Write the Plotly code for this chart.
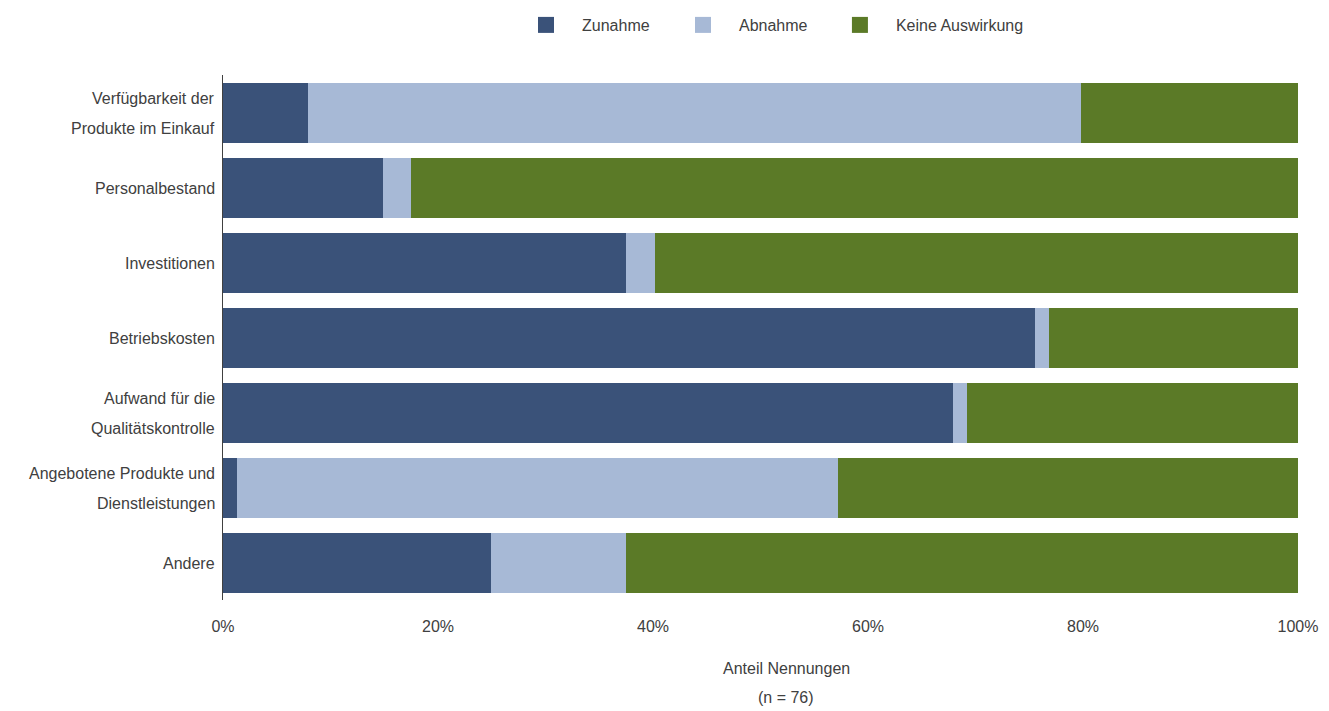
import plotly.graph_objects as go

categories = [
    "Verfügbarkeit der<br>Produkte im Einkauf",
    "Personalbestand",
    "Investitionen",
    "Betriebskosten",
    "Aufwand für die<br>Qualitätskontrolle",
    "Angebotene Produkte und<br>Dienstleistungen",
    "Andere",
]
zunahme = [7.9, 14.9, 37.5, 75.5, 67.9, 1.3, 24.9]
abnahme = [71.9, 2.6, 2.7, 1.3, 1.3, 55.9, 12.6]
keine = [20.2, 82.5, 59.8, 23.2, 30.8, 42.8, 62.5]

tick_vals = [0, 20, 40, 60, 80, 100]
tick_text = ["0%", "20%", "40%", "60%", "80%", "100%"]
axis_title_lines = ["Anteil Nennungen", "(n = 76)"]

series = [
    ("Zunahme", zunahme, "#3A5279"),
    ("Abnahme", abnahme, "#A7B9D6"),
    ("Keine Auswirkung", keine, "#5B7A27"),
]
legend_x = [0.267, 0.413, 0.559]
legend_ids = ["legend", "legend2", "legend3"]

font_family = "Liberation Sans, Arial, sans-serif"
text_color = "#404040"

fig = go.Figure()
for name, vals, color in series:
    fig.add_trace(go.Bar(
        y=categories, x=vals, name=name, orientation="h",
        marker=dict(color=color, line=dict(width=0)),
        showlegend=False,
    ))
# legend entries with larger square markers, one legend per entry
for (name, vals, color), lid in zip(series, legend_ids):
    fig.add_trace(go.Scatter(
        x=[None], y=[None], mode="markers", name=name,
        marker=dict(symbol="square", size=22, color=color),
        showlegend=True, legend=lid,
    ))

# category labels (two-line labels with wider line spacing)
annotations = []
for cat in categories:
    lines = cat.split("<br>")
    n = len(lines)
    for j, line in enumerate(lines):
        annotations.append(dict(
            x=0, xref="paper", y=cat, yref="y",
            xanchor="right", yanchor="middle",
            xshift=-6, yshift=((n - 1) / 2 - j) * 30 - 1,
            text=line, showarrow=False,
            font=dict(size=16, color=text_color, family=font_family),
        ))
# axis title lines
for j, line in enumerate(axis_title_lines):
    annotations.append(dict(
        x=0.524, xref="paper", y=(600 - (668 + 29 * j)) / 525, yref="paper",
        xanchor="center", yanchor="middle",
        text=line, showarrow=False,
        font=dict(size=16, color=text_color, family=font_family),
    ))

legend_common = dict(
    orientation="h", xanchor="left", y=1.0, yanchor="top",
    yref="container", font=dict(size=16, color=text_color, family=font_family),
    itemwidth=62, bgcolor="rgba(0,0,0,0)",
)
legends = {lid: dict(legend_common, x=lx) for lid, lx in zip(legend_ids, legend_x)}

fig.update_layout(
    barmode="stack",
    bargap=0.2,
    width=1329, height=711,
    margin=dict(l=215, r=39, t=67, b=119),
    paper_bgcolor="white", plot_bgcolor="white",
    font=dict(family=font_family, size=16, color=text_color),
    xaxis=dict(
        range=[0, 100], tickvals=tick_vals, ticktext=tick_text,
        showgrid=False, zeroline=False, showline=False,
        ticks="", ticklabelstandoff=15,
    ),
    yaxis=dict(
        autorange="reversed", showgrid=False, zeroline=False,
        showline=True, linecolor="#404040", linewidth=1,
        ticks="", showticklabels=False,
    ),
    annotations=annotations,
    **legends,
)

fig.write_html("out.html")
